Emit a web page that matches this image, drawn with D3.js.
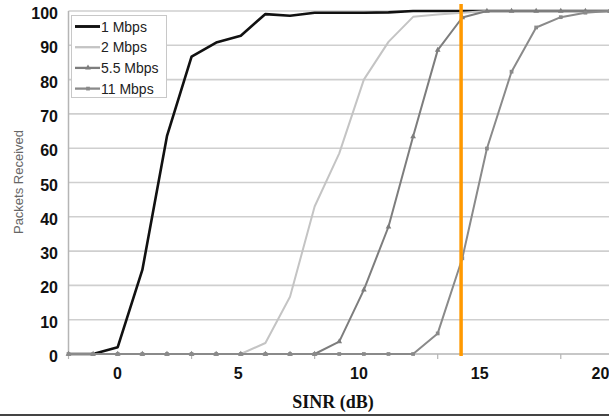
<!DOCTYPE html>
<html>
<head>
<meta charset="utf-8">
<script src="https://cdn.jsdelivr.net/npm/d3@7"></script>
<style>
	body { margin: 0; background: #fff; }
	svg { display: block; }
	.tick-label { font-family: "Liberation Sans", Arial, sans-serif; font-weight: bold; font-size: 16px; fill: #111; }
	.legend-label { font-family: "Liberation Sans", Arial, sans-serif; font-size: 14px; fill: #222; }
</style>
</head>
<body>
<div id="chart"></div>
<script>
var width = 609;
var height = 417;

// SINR values (dB) on the x axis
var sinr = [-2, -1, 0, 1, 2, 3, 4, 5, 6, 7, 8, 9, 10, 11, 12, 13, 14, 15, 16, 17, 18, 19, 20];

// packets received per rate
var mbps1 = [0, 0, 2, 24.5, 63.5, 86.7, 90.8, 92.8, 99.1, 98.6, 99.5, 99.5, 99.5, 99.6, 100, 100, 100, 100, 100, 100, 100, 100, 100];
var mbps2 = [0, 0, 0, 0, 0, 0, 0, 0, 3.2, 16.7, 43, 58.5, 80, 91, 98.3, 99, 99.5, 100, 100, 100, 100, 100, 100];
var mbps55 = [0, 0, 0, 0, 0, 0, 0, 0, 0, 0, 0, 3.6, 18.7, 37.1, 63.4, 88.6, 98.1, 100, 100, 100, 100, 100, 100];
var mbps11 = [0, 0, 0, 0, 0, 0, 0, 0, 0, 0, 0, 0, 0, 0, 0, 6, 27.9, 59.9, 82.3, 95.2, 98.2, 99.5, 100];

var yTicks = [0, 10, 20, 30, 40, 50, 60, 70, 80, 90, 100];
var xLabels = [0, 5, 10, 15, 20];
var xTickMarks = [-2, 3, 8, 13, 18];
var marker = 14;

var series = [
	{ name: '1 Mbps', values: mbps1, color: '#111', width: 2.6, symbol: null },
	{ name: '2 Mbps', values: mbps2, color: '#c4c4c4', width: 2, symbol: null },
	{ name: '5.5 Mbps', values: mbps55, color: '#7d7d7d', width: 2, symbol: d3.symbolTriangle },
	{ name: '11 Mbps', values: mbps11, color: '#8a8a8a', width: 2, symbol: d3.symbolSquare }
];

var x = d3.scaleLinear().domain([-2, 20]).range([68.5, 610]);
// category labels sit a little inside the data points (excel style)
var xLabel = d3.scaleLinear().domain([0, 20]).range([117.5, 600.5]);
var y = d3.scaleLinear().domain([0, 100]).range([354, 11]);

var svg = d3.select('#chart').append('svg')
	.attr('width', width)
	.attr('height', height);

// gridlines
svg.append('g')
	.selectAll('line')
	.data(yTicks.slice(1))
	.enter().append('line')
	.attr('x1', x(-2))
	.attr('x2', width)
	.attr('y1', function(d) { return y(d); })
	.attr('y2', function(d) { return y(d); })
	.attr('stroke', '#cfcfcf')
	.attr('stroke-width', 1.6);

// axes lines
svg.append('line')
	.attr('x1', x(-2)).attr('x2', x(-2))
	.attr('y1', y(100)).attr('y2', y(0))
	.attr('stroke', '#b5b5b5').attr('stroke-width', 1.5);

svg.append('line')
	.attr('x1', x(-2)).attr('x2', width)
	.attr('y1', y(0)).attr('y2', y(0))
	.attr('stroke', '#b5b5b5').attr('stroke-width', 1.5);

svg.append('g')
	.selectAll('line')
	.data(xTickMarks)
	.enter().append('line')
	.attr('x1', function(d) { return x(d); })
	.attr('x2', function(d) { return x(d); })
	.attr('y1', y(0))
	.attr('y2', y(0) + 5)
	.attr('stroke', '#b5b5b5')
	.attr('stroke-width', 1.2);

// tick labels
svg.append('g')
	.selectAll('text')
	.data(yTicks)
	.enter().append('text')
	.attr('class', 'tick-label')
	.attr('x', 58)
	.attr('y', function(d) { return y(d) + 8; })
	.attr('text-anchor', 'end')
	.text(function(d) { return d; });

svg.append('g')
	.selectAll('text')
	.data(xLabels)
	.enter().append('text')
	.attr('class', 'tick-label')
	.attr('x', function(d) { return xLabel(d); })
	.attr('y', 378.5)
	.attr('text-anchor', 'middle')
	.text(function(d) { return d; });

// axis titles
svg.append('text')
	.attr('transform', 'translate(23,182) rotate(-90)')
	.attr('text-anchor', 'middle')
	.style('font-family', '"Liberation Sans", Arial, sans-serif')
	.style('font-size', '13px')
	.style('fill', '#666')
	.text('Packets Received');

svg.append('text')
	.attr('x', 333)
	.attr('y', 408)
	.attr('text-anchor', 'middle')
	.style('font-family', '"Liberation Serif", "Times New Roman", serif')
	.style('font-weight', 'bold')
	.style('font-size', '18px')
	.style('fill', '#111')
	.text('SINR (dB)');

// bottom rule
svg.append('line')
	.attr('x1', 0).attr('x2', width)
	.attr('y1', 415).attr('y2', 415)
	.attr('stroke', '#444').attr('stroke-width', 2);

// lines
var line = d3.line()
	.x(function(d, i) { return x(sinr[i]); })
	.y(function(d) { return y(d); });

var lines = svg.append('g');

series.forEach(function(s) {
	lines.append('path')
		.datum(s.values)
		.attr('d', line)
		.attr('fill', 'none')
		.attr('stroke', s.color)
		.attr('stroke-width', s.width)
		.attr('stroke-linejoin', 'round');

	if (s.symbol) {
		lines.append('g')
			.selectAll('path')
			.data(s.values)
			.enter().append('path')
			.attr('transform', function(d, i) { return 'translate(' + x(sinr[i]) + ',' + y(d) + ')'; })
			.attr('d', d3.symbol().type(s.symbol).size(marker))
			.attr('fill', s.color);
	}
});

// orange reference line
svg.append('line')
	.attr('x1', x(13.95)).attr('x2', x(13.95))
	.attr('y1', 4).attr('y2', 356)
	.attr('stroke', '#ff9900')
	.attr('stroke-width', 3.5);

// legend
var legend = svg.append('g');

legend.append('rect')
	.attr('x', 71.5)
	.attr('y', 15.5)
	.attr('width', 95)
	.attr('height', 82)
	.attr('fill', '#fff')
	.attr('stroke', '#c8c8c8');

var item = legend.selectAll('.legend')
	.data(series)
	.enter().append('g')
	.attr('class', 'legend')
	.attr('transform', function(d, i) { return 'translate(0,' + (26.5 + i * 20.7) + ')'; });

item.append('line')
	.attr('x1', 75).attr('x2', 100)
	.attr('stroke', function(d) { return d.color; })
	.attr('stroke-width', function(d) { return d.width + 0.3; });

item.filter(function(d) { return d.symbol; })
	.append('path')
	.attr('transform', 'translate(88,0)')
	.attr('d', function(d) { return d3.symbol().type(d.symbol).size(marker)(); })
	.attr('fill', function(d) { return d.color; });

item.append('text')
	.attr('class', 'legend-label')
	.attr('x', 101)
	.attr('y', 5)
	.text(function(d) { return d.name; });
</script>
</body>
</html>
